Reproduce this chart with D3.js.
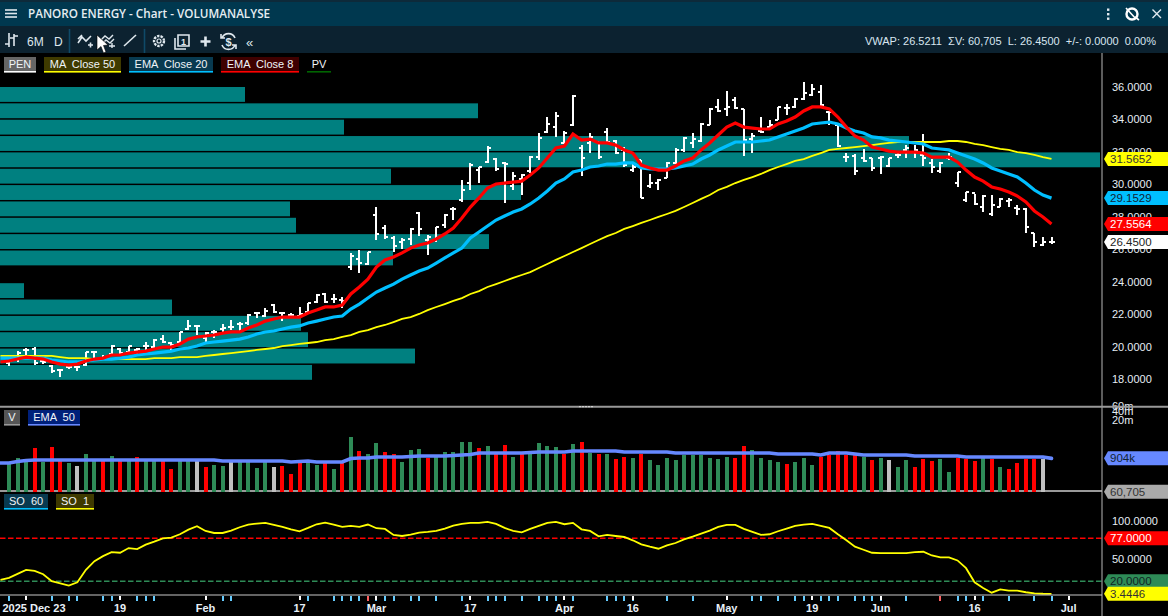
<!DOCTYPE html>
<html>
<head>
<meta charset="utf-8">
<title>PANORO ENERGY - Chart - VOLUMANALYSE</title>
<script src="https://cdnjs.cloudflare.com/ajax/libs/d3/7.8.5/d3.min.js"></script>
<style>
    html, body { margin: 0; padding: 0; background: #000; overflow: hidden; }
    svg { display: block; }
    text { font-family: "Liberation Sans", Arial, sans-serif; white-space: pre; }
</style>
</head>
<body>
<div id="chart"></div>
<script>
// trading days, first bar = day 0
let highs = [19.17,19.72,19.91,19.97,19.17,18.86,18.61,18.80,18.80,19.66,19.66,19.48,20.09,19.91,20.03,19.91,20.28,20.46,20.71,20.28,20.90,21.64,21.33,20.90,21.02,21.39,21.64,21.51,22.01,22.13,22.38,22.62,22.13,22.07,22.44,22.68,23.24,23.30,23.24,23.05,25.77,25.95,25.83,28.60,27.49,26.81,26.69,27.31,28.29,26.88,27.37,28.17,28.60,30.27,31.32,31.07,32.36,31.62,31.38,30.76,30.64,31.75,33.16,34.15,34.46,33.29,35.51,32.42,33.16,32.61,33.47,32.73,32.30,31.32,31.50,30.64,30.33,31.38,32.24,32.92,33.16,33.78,34.71,35.26,35.75,35.38,34.64,33.16,34.15,33.97,34.77,34.95,35.32,36.31,36.19,36.12,34.52,33.66,31.93,31.87,32.18,31.62,31.75,31.62,31.99,32.42,32.42,33.10,31.56,31.38,31.93,30.76,29.53,29.40,29.34,29.34,29.16,29.16,28.73,28.54,27.00,26.75,26.75];
let lows = [18.80,19.05,19.48,18.86,18.92,18.37,18.12,18.61,18.49,18.80,19.17,19.17,19.41,19.48,19.54,19.54,19.66,19.79,20.22,19.79,20.22,21.02,20.71,20.28,20.53,20.83,21.02,20.83,21.33,21.76,21.82,22.07,21.57,21.76,21.76,22.07,22.68,22.68,22.68,22.38,24.72,24.53,25.03,26.57,26.63,25.83,26.01,26.26,26.81,25.64,26.45,27.31,27.80,28.91,29.65,30.08,31.32,30.82,28.85,29.65,29.34,30.70,31.50,33.16,32.92,32.49,33.60,30.51,31.93,31.56,32.55,31.87,31.07,30.76,29.16,29.77,29.65,30.39,31.25,31.99,32.24,32.61,33.66,34.46,34.21,34.64,31.75,31.93,33.16,33.35,33.97,34.27,34.71,35.20,35.45,34.77,33.66,32.30,31.38,30.57,31.38,30.82,30.64,31.07,31.62,31.62,31.62,31.13,30.70,30.70,31.50,29.84,28.91,28.73,28.29,28.05,28.60,28.60,28.11,27.00,26.14,26.20,26.32];
let opens = [18.99,19.29,19.79,19.85,19.11,18.80,18.55,18.74,18.74,18.86,19.66,19.29,19.54,19.85,19.66,19.79,20.03,19.97,20.46,20.22,20.28,21.08,21.27,20.53,20.90,21.08,21.20,21.39,21.45,22.07,21.88,22.56,22.07,21.94,21.88,22.13,22.75,23.24,22.93,22.87,24.90,25.40,25.09,28.11,27.31,26.69,26.45,26.63,28.23,26.57,26.57,27.49,28.48,29.03,30.08,30.88,31.38,31.56,31.32,29.90,30.33,30.82,31.68,33.23,33.53,32.55,33.66,32.24,32.55,32.61,33.23,32.67,32.12,30.88,31.50,29.90,30.08,30.39,31.32,32.12,32.55,32.67,33.66,34.77,34.64,35.20,34.64,32.79,33.29,33.53,33.97,34.71,34.77,35.26,35.51,35.69,34.46,33.66,31.68,31.75,31.62,31.62,31.62,31.13,31.81,32.12,31.99,31.81,31.32,30.82,31.62,30.08,29.03,29.46,28.60,28.17,28.60,28.97,28.54,28.48,27.00,26.26,26.45];
let closes = [19.11,19.60,19.79,18.99,19.05,18.49,18.55,18.74,18.74,19.66,19.66,19.35,20.03,19.60,20.03,19.85,20.03,20.40,20.28,20.09,20.90,21.27,21.27,20.83,20.90,21.14,21.20,21.39,21.94,22.07,22.19,22.13,22.07,21.94,22.01,22.68,23.18,22.75,22.93,22.81,25.58,25.15,25.83,26.94,26.75,26.20,26.57,27.25,27.25,26.75,27.37,28.11,28.48,29.65,31.19,31.07,32.24,30.95,31.25,30.51,30.57,31.68,32.86,33.72,34.21,33.16,35.45,31.62,32.92,31.68,32.61,31.93,31.19,31.07,29.16,30.08,30.27,31.32,32.12,32.86,32.79,33.72,34.64,34.52,34.77,34.71,32.73,32.98,33.23,33.66,34.77,34.71,35.26,35.63,35.88,34.89,34.46,32.36,31.68,30.82,31.44,31.01,31.68,31.62,31.81,32.24,32.12,31.62,31.07,31.32,31.68,30.76,29.53,28.79,29.28,28.73,29.10,29.03,28.48,27.37,26.45,26.45,26.45];

// indicator lines start one day before the first bar
let ema8 = [19.05,19.11,19.23,19.35,19.29,19.23,19.05,18.92,18.86,18.92,19.11,19.23,19.29,19.48,19.48,19.60,19.66,19.72,19.85,19.97,19.97,20.16,20.46,20.59,20.65,20.71,20.83,20.90,20.90,21.14,21.33,21.57,21.70,21.82,21.82,21.82,22.07,22.25,22.44,22.44,22.56,23.24,23.67,24.16,24.90,25.34,25.52,25.77,26.07,26.26,26.38,26.63,26.94,27.31,27.92,28.60,29.16,29.77,30.02,30.08,30.14,30.20,30.57,31.01,31.62,32.24,32.36,33.10,32.73,32.79,32.55,32.55,32.42,32.12,31.93,31.19,31.01,30.88,30.88,31.13,31.44,31.62,32.12,32.55,33.04,33.53,33.78,33.53,33.47,33.41,33.41,33.72,33.90,34.15,34.52,34.77,34.77,34.64,34.15,33.53,32.98,32.73,32.30,32.18,32.05,31.99,31.99,31.99,31.93,31.68,31.68,31.68,31.38,30.88,30.45,30.20,29.84,29.71,29.53,29.28,28.91,28.36,27.99,27.56];
let ema20 = [19.29,19.29,19.29,19.29,19.29,19.29,19.17,19.11,19.05,19.05,19.11,19.17,19.23,19.23,19.29,19.35,19.48,19.54,19.60,19.66,19.72,19.85,19.91,20.03,20.22,20.28,20.34,20.40,20.46,20.59,20.77,20.90,20.96,21.08,21.20,21.27,21.45,21.57,21.70,21.82,21.88,22.31,22.62,22.99,23.36,23.61,23.85,24.16,24.41,24.66,24.84,25.15,25.46,25.77,26.07,26.69,27.06,27.43,27.80,28.05,28.29,28.48,28.79,29.16,29.59,30.08,30.33,30.76,30.88,31.07,31.13,31.25,31.25,31.32,31.32,31.01,30.95,30.95,30.95,31.01,31.13,31.25,31.56,31.81,32.12,32.36,32.61,32.61,32.61,32.67,32.73,32.92,33.10,33.29,33.47,33.72,33.78,33.84,33.72,33.47,33.29,33.16,32.92,32.86,32.73,32.67,32.61,32.55,32.49,32.24,32.18,32.12,31.93,31.75,31.56,31.32,31.01,30.82,30.64,30.45,30.08,29.65,29.34,29.15];
let ma50 = [19.42,19.42,19.42,19.42,19.42,19.42,19.42,19.35,19.29,19.29,19.29,19.23,19.23,19.23,19.23,19.23,19.23,19.23,19.29,19.29,19.29,19.35,19.35,19.35,19.42,19.48,19.54,19.60,19.66,19.72,19.79,19.85,19.91,20.03,20.09,20.16,20.22,20.28,20.40,20.46,20.59,20.71,20.90,21.02,21.20,21.33,21.51,21.70,21.82,22.01,22.25,22.44,22.62,22.81,22.99,23.24,23.42,23.67,23.85,24.04,24.23,24.41,24.59,24.84,25.09,25.34,25.58,25.83,26.07,26.32,26.57,26.81,27.00,27.25,27.43,27.62,27.80,27.99,28.17,28.36,28.60,28.85,29.10,29.34,29.65,29.84,30.08,30.27,30.45,30.64,30.88,31.07,31.25,31.44,31.56,31.75,31.93,32.12,32.18,32.24,32.30,32.36,32.42,32.49,32.55,32.61,32.61,32.61,32.61,32.61,32.61,32.67,32.67,32.61,32.49,32.42,32.30,32.18,32.12,31.99,31.93,31.81,31.68,31.57];

// price profile per one unit price bucket, top bucket first
let profileLevels = [35.5,34.5,33.5,32.5,31.5,30.5,29.5,28.5,27.5,26.5,25.5,24.5,23.5,22.5,21.5,20.5,19.5,18.5];
let profileVolumes = [2.45,4.78,3.44,9.09,11.0,3.91,5.21,2.90,2.96,4.89,3.93,0,0.24,1.72,3.01,3.08,4.15,3.12];

// volume in shares (thousands), log axis
let volumes = [600,929,650,2084,650,2259,790,620,487,1283,790,790,1092,790,790,1007,790,790,790,382,790,790,790,449,528,487,690,650,650,414,650,449,487,255,650,790,528,650,382,600,5060,1635,1283,3120,1508,1283,672,1773,1922,960,1040,1508,1508,3380,3380,2084,2449,1330,2655,1007,1330,1283,3120,2449,2259,1330,2878,3380,1420,1283,1283,857,1007,929,1330,790,528,929,790,1184,1184,1184,929,857,1007,929,2449,1773,929,790,672,572,672,929,528,1040,1184,1635,1184,1184,1040,790,929,790,449,790,449,857,729,857,300,929,857,729,929,857,449,382,620,857,857,857,60.705];
let volumeKinds = ("g g g r g r r g s g " + "g r g r g r g g r r " + "g g s r g g s g g g " + "g s r r r g g r g r " + "g r g g r r g g g r " + "g g g g g r g r r g " + "r g g g g r g r g r " + "g r r g r g g g g g " + "g g g g g r r g g g " + "g r g g g r r r r r " + "g r g s g g r r r g " + "g r r r g r g r r r " + "r s s").split(" ");
let volumeEma = [620,620,700,760,
    790,790,790,790,790,790,790,790,790,790,790,790,790,790,790,790,790,790,790,790,790,790,
    729,729,729,729,729,729,729,729,
    672,700,729,672,672,672,672,890,929,929,
    1007,1007,1007,1007,1050,1092,1092,1092,1092,1137,1184,1232,
    1391,1391,1391,1391,1391,1391,1450,1508,1508,1508,1508,
    1635,1635,1635,1635,1635,1635,1508,1508,1508,1508,1508,1508,
    1391,1391,1391,1391,1391,1391,1391,1391,1391,1391,1391,1391,
    1283,1283,1283,1283,1283,1184,1391,1391,1391,1283,
    1184,1184,1184,1184,1184,1184,1092,1092,1092,1092,1092,1092,
    1007,1007,1007,1007,1007,1007,1007,1007,1007,1007,904];

// stochastic, also one leading value
let stochastic = [21.8,24.5,29.8,35.2,33.8,29.4,20.1,17.4,14.3,18.7,35.2,46.8,53.4,58.8,57.9,64.1,62.8,68.6,72.6,77.0,77.9,82.4,88.6,93.0,86.8,84.1,84.1,87.3,91.7,95.3,96.6,97.5,94.8,92.2,89.0,86.4,90.8,95.7,97.9,95.3,92.2,93.5,92.2,95.3,90.4,89.5,81.5,80.1,81.9,84.6,85.5,86.8,89.9,93.9,96.2,97.5,97.5,98.8,96.2,90.8,86.8,85.0,89.5,93.5,97.5,98.8,95.7,97.5,89.0,86.8,79.7,81.5,80.1,78.8,74.4,69.0,65.9,63.2,67.7,70.8,75.7,79.3,83.3,87.3,92.2,94.8,94.8,89.5,85.5,81.5,82.4,86.4,89.9,93.5,95.3,96.2,93.5,90.8,82.4,74.4,65.9,61.9,57.9,57.4,57.4,57.4,57.4,58.8,59.2,54.3,51.7,51.7,47.7,37.4,18.7,11.2,4.9,9.4,7.6,7.6,5.5,4.0,3.5,3.44];

let priceTicks = [18,20,22,24,26,28,30,32,34,36];
let volumeTicks = [60e6,40e6,20e6];
let stochTicks = [50,100];

// date axis
let dateLabels = ["2025 Dec 23","19","Feb","17","Mar","17","Apr","16","May","19","Jun","16","Jul"];
let dateLabelDays = [2,13,23,34,43,54,65,73,84,94,102,113,124];
let eventDays = [0,5,7,8,11,12,15,16,17,25,26,35,38,39,40,41,43,44,45,47,48,50,53,56,57,58,60,62,63,64,66,70,71,72,73,77,80,87,88,90,92,93,95,96,97,99,100,101,102,105,111,112,114,117,120,122];
let warnDays = [42,109];


class VolumeChart {

    constructor(parentElement) {
        this.parentElement = parentElement;
        this.width = 1168;
        this.height = 616;
        this.axisX = 1102;
        this.initVis();
    }

    initVis() {
        let vis = this;

        vis.svg = d3.select("#" + vis.parentElement).append("svg")
            .attr("width", vis.width)
            .attr("height", vis.height)
            .style("background", "#000");

        // one x scale for all three panes
        vis.x = d3.scaleLinear().domain([0, 122]).range([9, 1051.5]);

        vis.yPrice = d3.scaleLinear().domain([18, 36]).range([379, 87]);
        vis.yVolume = d3.scaleLog().domain([60705, 60e6]).range([491.8, 406.4]);
        vis.yStoch = d3.scaleLinear().domain([0, 100]).range([596.4, 521]);

        vis.drawPricePane();
        vis.drawVolumePane();
        vis.drawStochPane();
        vis.drawFrame();
        vis.drawFlags();
        vis.drawHeader();
    }

    drawPricePane() {
        let vis = this;

        // horizontal volume profile
        let yBand = d3.scaleBand()
            .domain(profileLevels)
            .range([vis.yPrice(36), vis.yPrice(17.95)])
            .paddingInner(0.09);
        let xProfile = d3.scaleLinear().domain([0, 11]).range([0, 1100]);

        vis.svg.append("g").selectAll("rect")
            .data(profileLevels)
            .join("rect")
            .attr("x", 0)
            .attr("y", d => yBand(d))
            .attr("height", yBand.bandwidth())
            .attr("width", (d, i) => xProfile(profileVolumes[i]))
            .attr("fill", "#008080");

        // ohlc bars
        let bars = vis.svg.append("g").attr("shape-rendering", "crispEdges")
            .selectAll("g")
            .data(highs.map((h, i) => i))
            .join("g")
            .attr("stroke", "#fff");

        bars.append("line")
            .attr("x1", d => vis.x(d)).attr("x2", d => vis.x(d))
            .attr("y1", d => vis.yPrice(highs[d])).attr("y2", d => vis.yPrice(lows[d]))
            .attr("stroke-width", 2);
        bars.append("line")
            .attr("x1", d => vis.x(d) - 3).attr("x2", d => vis.x(d))
            .attr("y1", d => vis.yPrice(opens[d])).attr("y2", d => vis.yPrice(opens[d]))
            .attr("stroke-width", 1.5);
        bars.append("line")
            .attr("x1", d => vis.x(d)).attr("x2", d => vis.x(d) + 3)
            .attr("y1", d => vis.yPrice(closes[d])).attr("y2", d => vis.yPrice(closes[d]))
            .attr("stroke-width", 1.5);

        // moving averages, yellow at the bottom
        let line = d3.line().x((d, i) => vis.x(i - 1)).y(d => vis.yPrice(d));
        [[ma50, "#ffff00", 1.8], [ema20, "#00bfff", 3.2], [ema8, "#ff0000", 3.2]].forEach(s => {
            vis.svg.append("path")
                .attr("d", line(s[0]))
                .attr("fill", "none")
                .attr("stroke", s[1])
                .attr("stroke-width", s[2]);
        });

        let axis = d3.axisRight(vis.yPrice)
            .tickValues(priceTicks)
            .tickSize(0)
            .tickPadding(0)
            .tickFormat(d3.format(".4f"));
        vis.styleAxis(vis.svg.append("g")
            .attr("transform", `translate(${vis.axisX + 10}, 0)`)
            .call(axis));
    }

    drawVolumePane() {
        let vis = this;
        let kindColor = {g: "#2e8b57", r: "#ff0000", s: "#c0c0c0"};

        vis.svg.append("line")
            .attr("x1", 0).attr("x2", vis.axisX)
            .attr("y1", 491).attr("y2", 491)
            .attr("stroke", "#999").attr("stroke-width", 2);

        vis.svg.append("g").attr("shape-rendering", "crispEdges")
            .selectAll("rect")
            .data(volumes)
            .join("rect")
            .attr("x", (d, i) => vis.x(i) - 2)
            .attr("width", 4)
            .attr("y", d => vis.yVolume(d * 1000))
            .attr("height", d => 492 - vis.yVolume(d * 1000))
            .attr("fill", (d, i) => kindColor[volumeKinds[i]]);

        let line = d3.line().x((d, i) => vis.x(i - 1)).y(d => vis.yVolume(d * 1000));
        vis.svg.append("path")
            .attr("d", line(volumeEma))
            .attr("fill", "none")
            .attr("stroke", "#6688ff")
            .attr("stroke-width", 3.6)
            .attr("stroke-linecap", "round");

        let axis = d3.axisRight(vis.yVolume)
            .tickValues(volumeTicks)
            .tickSize(0)
            .tickPadding(0)
            .tickFormat(d => (d / 1e6) + "m");
        vis.styleAxis(vis.svg.append("g")
            .attr("transform", `translate(${vis.axisX + 10}, 0)`)
            .call(axis));
    }

    drawStochPane() {
        let vis = this;

        [[77, "#ff0000"], [20, "#2e8b57"]].forEach(s => {
            vis.svg.append("line")
                .attr("x1", 0).attr("x2", vis.axisX)
                .attr("y1", vis.yStoch(s[0])).attr("y2", vis.yStoch(s[0]))
                .attr("stroke", s[1])
                .attr("stroke-width", 1.5)
                .attr("stroke-dasharray", "5.5 2.5");
        });

        let line = d3.line().x((d, i) => vis.x(i - 1)).y(d => vis.yStoch(d));
        vis.svg.append("path")
            .attr("d", line(stochastic))
            .attr("fill", "none")
            .attr("stroke", "#ffff00")
            .attr("stroke-width", 1.8);

        let axis = d3.axisRight(vis.yStoch)
            .tickValues(stochTicks)
            .tickSize(0)
            .tickPadding(0)
            .tickFormat(d3.format(".4f"));
        vis.styleAxis(vis.svg.append("g")
            .attr("transform", `translate(${vis.axisX + 10}, 0)`)
            .call(axis));

        // date axis with event markers
        let ticks = vis.svg.append("g").attr("shape-rendering", "crispEdges");
        ticks.selectAll(".event")
            .data(eventDays)
            .join("line")
            .attr("class", "event")
            .attr("x1", d => vis.x(d)).attr("x2", d => vis.x(d))
            .attr("y1", 596).attr("y2", 601)
            .attr("stroke", "#66ccff").attr("stroke-width", 2);
        ticks.selectAll(".warn")
            .data(warnDays)
            .join("line")
            .attr("class", "warn")
            .attr("x1", d => vis.x(d)).attr("x2", d => vis.x(d))
            .attr("y1", 596).attr("y2", 601)
            .attr("stroke", "#ff6060").attr("stroke-width", 2);
        ticks.selectAll(".date")
            .data(dateLabelDays)
            .join("line")
            .attr("class", "date")
            .attr("x1", d => vis.x(d)).attr("x2", d => vis.x(d))
            .attr("y1", 596).attr("y2", 600)
            .attr("stroke", "#fff").attr("stroke-width", 2);

        vis.svg.append("g").selectAll("text")
            .data(dateLabels)
            .join("text")
            .attr("x", (d, i) => i === 0 ? 34 : vis.x(dateLabelDays[i]))
            .attr("y", 612)
            .attr("text-anchor", "middle")
            .attr("font-size", 11)
            .attr("font-weight", "bold")
            .attr("fill", "#e8f0f8")
            .text(d => d);
    }

    drawFrame() {
        let vis = this;

        vis.svg.append("line")
            .attr("x1", vis.axisX).attr("x2", vis.axisX)
            .attr("y1", 53).attr("y2", vis.height)
            .attr("stroke", "#b8b8b8").attr("stroke-width", 1);
        vis.svg.append("line")
            .attr("x1", 0).attr("x2", vis.width)
            .attr("y1", 406.7).attr("y2", 406.7)
            .attr("stroke", "#999").attr("stroke-width", 2);
        vis.svg.append("line")
            .attr("x1", 0).attr("x2", vis.axisX)
            .attr("y1", 595).attr("y2", 595)
            .attr("stroke", "#c8c8c8").attr("stroke-width", 1);
        // pane resize grips
        [[579, 593, 406.7], [583, 592, 491]].forEach(g => {
            vis.svg.append("line")
                .attr("x1", g[0]).attr("x2", g[1])
                .attr("y1", g[2]).attr("y2", g[2])
                .attr("stroke", "#ddd").attr("stroke-width", 1)
                .attr("stroke-dasharray", "2 1");
        });
    }

    // price tag on the right axis
    flag(yCenter, fill, color, label) {
        let vis = this;
        let xa = vis.axisX + 2;
        let g = vis.svg.append("g");
        g.append("path")
            .attr("d", `M${xa},${yCenter} L${xa + 4},${yCenter - 7} L${vis.width},${yCenter - 7} L${vis.width},${yCenter + 7} L${xa + 4},${yCenter + 7} Z`)
            .attr("fill", fill);
        g.append("text")
            .attr("x", xa + 6)
            .attr("y", yCenter + 4)
            .attr("font-size", 11.5)
            .attr("fill", color)
            .text(label);
    }

    drawFlags() {
        let vis = this;
        vis.flag(vis.yPrice(31.5652), "#ffff00", "#333", "31.5652");
        vis.flag(vis.yPrice(29.1529), "#00bfff", "#123", "29.1529");
        vis.flag(vis.yPrice(27.5564), "#ff0000", "#fff", "27.5564");
        vis.flag(vis.yPrice(26.45), "#ffffff", "#222", "26.4500");
        vis.flag(vis.yVolume(904000), "#6688ff", "#123", "904k");
        vis.flag(vis.yVolume(60705), "#aaaaaa", "#333", "60,705");
        vis.flag(vis.yStoch(77), "#ff0000", "#fff", "77.0000");
        vis.flag(vis.yStoch(20), "#2e8b57", "#122", "20.0000");
        vis.flag(vis.yStoch(3.4446), "#ffff00", "#333", "3.4446");
    }

    chip(x, y, w, bg, line, label) {
        let vis = this;
        vis.svg.append("rect").attr("x", x).attr("y", y).attr("width", w).attr("height", 14).attr("fill", bg);
        vis.svg.append("rect").attr("x", x).attr("y", y + 14).attr("width", w).attr("height", 1.6).attr("fill", line);
        vis.svg.append("text")
            .attr("x", x + w / 2).attr("y", y + 11)
            .attr("text-anchor", "middle")
            .attr("font-size", 11)
            .attr("fill", "#f0f4f8")
            .text(label);
    }

    drawHeader() {
        let vis = this;
        let icon = "#dfe8ee";

        vis.svg.append("rect").attr("width", vis.width).attr("height", 3).attr("fill", "#0d2a3a");
        vis.svg.append("rect").attr("y", 2).attr("width", vis.width).attr("height", 24).attr("fill", "#00384f");
        vis.svg.append("rect").attr("y", 26).attr("width", vis.width).attr("height", 27).attr("fill", "#0c2230");

        // hamburger
        [10, 13.5, 17].forEach(y => {
            vis.svg.append("rect").attr("x", 5).attr("y", y - 0.8).attr("width", 12).attr("height", 1.6).attr("fill", icon);
        });

        vis.svg.append("text")
            .attr("x", 28).attr("y", 18)
            .style("font-family", "'Open Sans'")
            .attr("font-size", 11.7)
            .attr("font-weight", 600)
            .attr("fill", "#e6edf2")
            .text("PANORO ENERGY - Chart - VOLUMANALYSE");

        // right side of the title bar
        [9.5, 14, 18.5].forEach(y => {
            vis.svg.append("rect").attr("x", 1107).attr("y", y - 1).attr("width", 2.4).attr("height", 2.4).attr("fill", icon);
        });
        vis.svg.append("circle").attr("cx", 1132).attr("cy", 14).attr("r", 5.5).attr("fill", "none").attr("stroke", "#fff").attr("stroke-width", 2.4);
        vis.svg.append("path").attr("d", "M1126,8 L1136,19 M1135,17 L1139,20").attr("stroke", "#fff").attr("stroke-width", 1.6);
        vis.svg.append("path").attr("d", "M1152.5,9.5 L1161,18 M1161,9.5 L1152.5,18").attr("stroke", icon).attr("stroke-width", 1.4);

        // toolbar left
        let stroke = (d, w) => vis.svg.append("path").attr("d", d).attr("fill", "none").attr("stroke", icon).attr("stroke-width", w || 1.6);
        stroke("M9,33 V47 M5,44 H9 M14,34 V46 M14,36 H18 M14,38 H10");
        vis.svg.append("text").attr("x", 27).attr("y", 46).attr("font-size", 12).attr("fill", icon).text("6M");
        vis.svg.append("text").attr("x", 54).attr("y", 46).attr("font-size", 12).attr("fill", icon).text("D");
        [69.5, 144.5].forEach(x => {
            vis.svg.append("line").attr("x1", x).attr("x2", x).attr("y1", 29).attr("y2", 53).attr("stroke", "#0f4a68").attr("stroke-width", 1.6);
        });
        stroke("M78,43 L82,37 L86,41 L91,36 M78,39 L82,35 M88,45 H93 M90.5,42.5 V47.5");
        stroke("M101,40 L105,36 L109,39 L113,35 M102,44 L106,40 L110,43 L114,39 M109,46 H115 M112,43 V48", 1.4);
        stroke("M124,46 L136,35");
        // toolbar cursor
        vis.svg.append("path")
            .attr("d", "M97,35 L97,50 L101,46.5 L103.5,53 L106,52 L103.5,45.5 L108,45 Z")
            .attr("fill", "#fff").attr("stroke", "#000").attr("stroke-width", 0.6);
        // gear
        vis.svg.append("circle").attr("cx", 159).attr("cy", 41).attr("r", 5).attr("fill", "none").attr("stroke", icon).attr("stroke-width", 2.4).attr("stroke-dasharray", "2.4 1.1");
        vis.svg.append("circle").attr("cx", 159).attr("cy", 41).attr("r", 2).attr("fill", "none").attr("stroke", icon).attr("stroke-width", 1.2);
        // pages
        stroke("M178,35 H189 V46 H178 Z M175,38 V49 H186");
        vis.svg.append("text").attr("x", 183.5).attr("y", 44.5).attr("text-anchor", "middle").attr("font-size", 9).attr("font-weight", "bold").attr("fill", icon).text("1");
        stroke("M200.5,41.5 H210.5 M205.5,36.5 V46.5", 2.6);
        // currency refresh
        stroke("M222,38 A7,7 0 0 1 235,38 M235,45 A7,7 0 0 1 222,45 M221,34 V38 H225 M236,49 V45 H232");
        vis.svg.append("text").attr("x", 228.5).attr("y", 45.5).attr("text-anchor", "middle").attr("font-size", 11).attr("font-weight", "bold").attr("fill", icon).text("$");
        vis.svg.append("text").attr("x", 246).attr("y", 47).attr("font-size", 13).attr("fill", icon).text("«");

        // toolbar right
        vis.svg.append("text")
            .attr("x", 1156).attr("y", 45)
            .attr("text-anchor", "end")
            .attr("font-size", 11)
            .attr("fill", "#d8e6f0")
            .text("VWAP: 26.5211  ΣV: 60,705  L: 26.4500  +/-: 0.0000  0.00%");

        // legend chips
        vis.chip(4, 57, 32, "#666", "#fff", "PEN");
        vis.chip(44, 57, 77, "#3f3a00", "#ffff00", "MA  Close 50");
        vis.chip(129, 57, 84, "#083a50", "#00bfff", "EMA  Close 20");
        vis.chip(221, 57, 78, "#3f0000", "#ff0000", "EMA  Close 8");
        vis.chip(307, 57, 24, "#000", "#006400", "PV");
        vis.chip(4, 410, 16, "#555", "#999", "V");
        vis.chip(28, 410, 52, "#00207a", "#6688ff", "EMA  50");
        vis.chip(4, 494, 44, "#083a50", "#00bfff", "SO  60");
        vis.chip(56, 494, 38, "#3f3a00", "#ffff00", "SO  1");
    }

    styleAxis(g) {
        g.select(".domain").remove();
        g.selectAll("text")
            .attr("font-size", 11)
            .style("font-family", "'Liberation Sans'")
            .attr("fill", "#e6eef6");
    }
}

new VolumeChart("chart");
</script>
</body>
</html>
